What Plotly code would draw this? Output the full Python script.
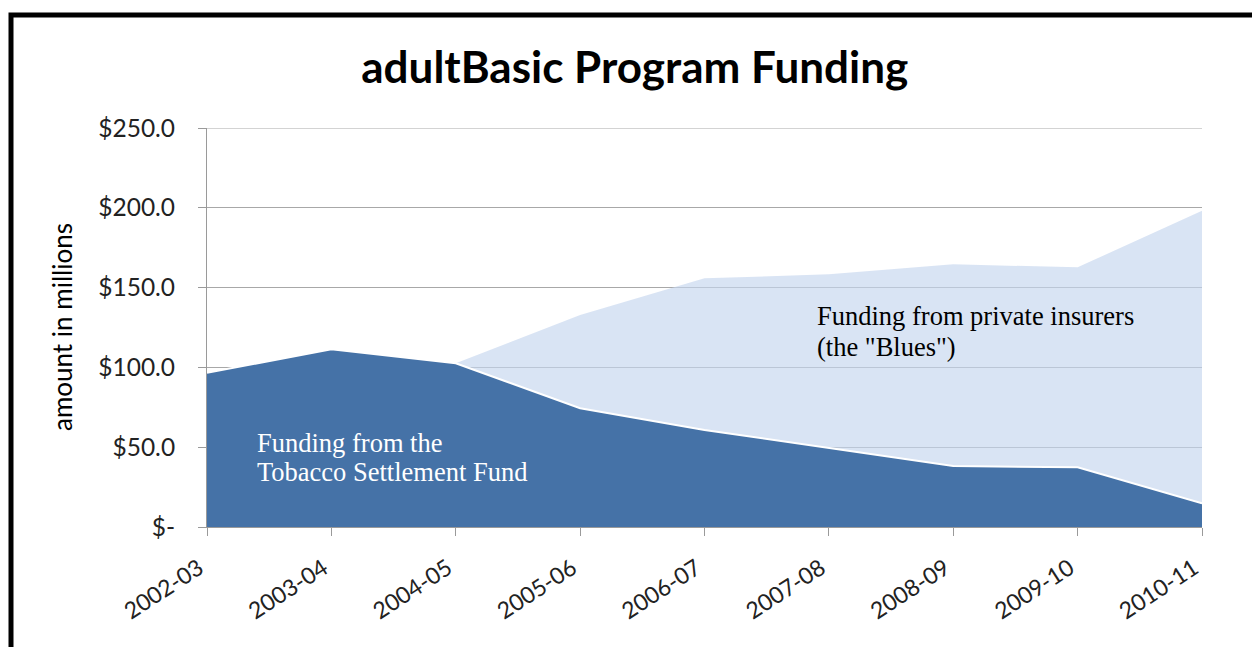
import plotly.graph_objects as go

years = ["2002-03", "2003-04", "2004-05", "2005-06", "2006-07",
         "2007-08", "2008-09", "2009-10", "2010-11"]
tobacco = [96.7, 111.3, 102.6, 74.4, 60.8, 49.3, 38.2, 37.4, 14.8]
blues = [0, 0, 0, 58.4, 95.0, 109.0, 126.4, 125.3, 183.4]
ytick_vals = [0, 50, 100, 150, 200, 250]
ytick_text = ["$-", "$50.0", "$100.0", "$150.0", "$200.0", "$250.0"]

W, H = 1252, 647
L, R, T, B = 207, 50, 128, 120
pw, ph = W - L - R, H - T - B

def px_x(p):
    return (p - L) / pw

def px_y(p):
    return (H - B - p) / ph

fig = go.Figure()
fig.add_trace(go.Scatter(
    x=years, y=tobacco, stackgroup="one", mode="lines",
    line=dict(color="white", width=2),
    fillcolor="#4572A7", name="Tobacco", hoverinfo="skip"))
fig.add_trace(go.Scatter(
    x=years, y=blues, stackgroup="one", mode="lines",
    line=dict(color="rgba(0,0,0,0)", width=0),
    fillcolor="rgba(196,214,238,0.65)", name="Blues", hoverinfo="skip"))

fig.update_layout(
    width=W, height=H,
    margin=dict(l=L, r=R, t=T, b=B, autoexpand=False),
    paper_bgcolor="white", plot_bgcolor="white",
    showlegend=False,
    font=dict(family="Lato, sans-serif", color="#222"),
    title=dict(text="<b>adultBasic Program Funding</b>",
               x=0.507, xanchor="center", y=1 - 68 / H, yanchor="middle",
               yref="container", font=dict(size=44, color="black")),
    xaxis=dict(type="category", range=[0, len(years) - 1],
               showgrid=False, showline=True, linecolor="#9a9a9a", linewidth=1,
               ticks="outside", ticklen=8, tickcolor="#9a9a9a",
               tickangle=-33, ticklabelshift=-8, ticklabelstandoff=10,
               tickfont=dict(size=23, color="#222")),
    yaxis=dict(range=[0, 250], tickvals=ytick_vals, ticktext=ytick_text,
               showgrid=True, gridcolor="#a8a8a8", gridwidth=1,
               showline=True, linecolor="#9a9a9a", linewidth=1,
               ticks="outside", ticklen=8, tickcolor="#9a9a9a",
               ticklabelstandoff=18,
               tickfont=dict(size=24.5, color="#222"), zeroline=False),
)

# top gridline at $250
fig.add_shape(type="line", xref="paper", yref="y", x0=0, x1=1, y0=250, y1=250,
              line=dict(color="#a8a8a8", width=1), layer="below")

fig.add_annotation(text="amount in millions", xref="paper", yref="paper",
                   x=px_x(62), y=px_y(327), xanchor="center", yanchor="middle",
                   showarrow=False, textangle=-90,
                   font=dict(size=26, color="black"))

serif = "Liberation Serif, serif"
label_lines = [
    ("Funding from the", 0.386, 52.6, "white"),
    ("Tobacco Settlement Fund", 0.386, 34.5, "white"),
    ("Funding from private insurers", 4.89, 132.2, "black"),
    ("(the \"Blues\")", 4.89, 112.8, "black"),
]
for txt, xi, yv, col in label_lines:
    fig.add_annotation(text=txt, xref="x", yref="y", x=xi, y=yv,
                       xanchor="left", yanchor="middle", align="left",
                       showarrow=False,
                       font=dict(family=serif, size=26.5, color=col))

fig.add_shape(type="rect", xref="paper", yref="paper",
              x0=px_x(11), x1=px_x(1262), y0=px_y(660), y1=px_y(15),
              line=dict(color="black", width=5), fillcolor="rgba(0,0,0,0)",
              layer="above")

fig.write_html("out.html")
